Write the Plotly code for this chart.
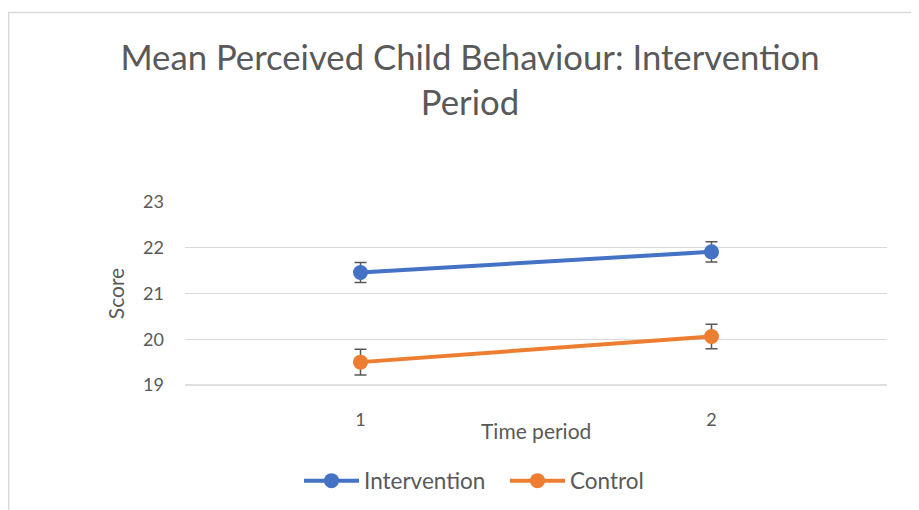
import plotly.graph_objects as go

categories = ["1", "2"]
intervention = [21.46, 21.91]
intervention_err = [0.22, 0.22]
control = [19.50, 20.06]
control_err = [0.28, 0.27]
y_ticks = [19, 20, 21, 22, 23]

FONT = "Lato"
GREY = "#595959"

fig = go.Figure()
fig.add_trace(go.Scatter(
    x=categories, y=intervention, name="Intervention", mode="lines+markers",
    line=dict(color="#4472C4", width=4), marker=dict(size=15, color="#4472C4"),
    error_y=dict(type="data", array=intervention_err, visible=True, color=GREY, thickness=1.5, width=6),
))
fig.add_trace(go.Scatter(
    x=categories, y=control, name="Control", mode="lines+markers",
    line=dict(color="#ED7D31", width=4), marker=dict(size=15, color="#ED7D31"),
    error_y=dict(type="data", array=control_err, visible=True, color=GREY, thickness=1.5, width=6),
))

OFF = 8  # page body margin
L, R, T, B = 185 - OFF, 887 - OFF, 202 - OFF, 385 - OFF
W, H = 919 - OFF, 510 - OFF
pw, ph = R - L, B - T

def px(x):
    return (x - OFF - L) / pw

def py(y):
    return (B - (y - OFF)) / ph

fig.update_layout(
    width=W, height=H,
    margin=dict(l=L, r=W - R, t=T, b=H - B, pad=0, autoexpand=False),
    paper_bgcolor="white", plot_bgcolor="white",
    font=dict(family=FONT, color=GREY, size=18),
    title=dict(text="Mean Perceived Child Behaviour: Intervention<br>Period",
               x=(470 - OFF) / W, xanchor="center", y=1 - (70 - OFF) / H, yanchor="middle",
               font=dict(family=FONT, size=34.7, color=GREY)),
    xaxis=dict(type="category", range=[-0.5, 1.5], showgrid=False, showline=False, ticks="",
               ticklabelstandoff=22, tickfont=dict(size=18, color=GREY)),
    yaxis=dict(range=[19, 23], tickvals=y_ticks, showgrid=True, gridcolor="#d9d9d9",
               gridwidth=1, zeroline=False, showline=False, ticks="",
               ticklabelstandoff=20, tickfont=dict(size=18, color=GREY),
               title=dict(text="Score", font=dict(size=21, color=GREY), standoff=12)),
    legend=dict(orientation="h", x=px(505), xanchor="center", y=py(481), yanchor="middle",
                font=dict(size=22.5, color=GREY), itemwidth=55, traceorder="normal",
                entrywidth=136, entrywidthmode="pixels"),
    annotations=[
        dict(text="Time period", xref="paper", yref="paper", x=px(536), y=py(430),
             xanchor="center", yanchor="middle", showarrow=False,
             font=dict(size=21, color=GREY, family=FONT)),
    ],
    shapes=[
        dict(type="line", xref="paper", yref="paper", x0=0, x1=1, y0=0, y1=0,
             line=dict(color="#bfbfbf", width=1)),
        dict(type="rect", xref="paper", yref="paper",
             x0=px(8.8), x1=px(940), y0=py(540), y1=py(12.5),
             line=dict(color="#d9d9d9", width=1.5), fillcolor="rgba(0,0,0,0)", layer="below"),
    ],
)

fig.write_html("out.html")
